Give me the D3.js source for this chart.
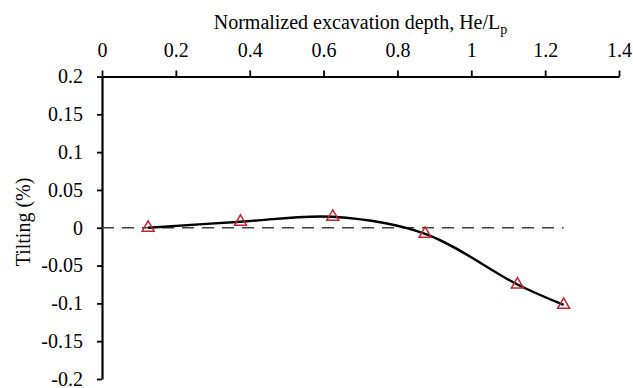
<!DOCTYPE html>
<html>
<head>
<meta charset="utf-8">
<script src="https://d3js.org/d3.v7.min.js"></script>
<style>
  html, body { margin: 0; padding: 0; background: #fff; }
  svg text { font-family: "Liberation Serif", "DejaVu Serif", "Times New Roman", Times, serif !important; }
</style>
</head>
<body>
<div id="chart"></div>
<script>
// Values
const depth = [0.125, 0.375, 0.625, 0.875, 1.125, 1.25];   // He/Lp
const tilting = [0.0, 0.008, 0.0145, -0.008, -0.075, -0.102]; // %
const xTicks = [0, 0.2, 0.4, 0.6, 0.8, 1, 1.2, 1.4];
const yTicks = [0.2, 0.15, 0.1, 0.05, 0, -0.05, -0.1, -0.15, -0.2];
const refLine = [0, 1.25]; // dashed zero line extent

const width = 633, height = 388;
const serif = "Liberation Serif, DejaVu Serif, Times New Roman, serif";

const svg = d3.select("#chart")
  .append("svg")
    .attr("width", width)
    .attr("height", height)
    .attr("font-family", serif);

const x = d3.scaleLinear().domain([0, 1.4]).range([102, 619]);
const y = d3.scaleLinear().domain([-0.2, 0.2]).range([379, 76.5]);

const fmt = d => String(+d.toFixed(2));

// x axis sits on top at y = 0.2
const xAxis = svg.append("g")
    .attr("transform", `translate(0,${y(0.2)})`)
    .call(d3.axisTop(x).tickValues(xTicks).tickFormat(fmt).tickSizeInner(6).tickSizeOuter(0).tickPadding(14));

const yAxis = svg.append("g")
    .attr("transform", `translate(${x(0)},0)`)
    .call(d3.axisLeft(y).tickValues(yTicks).tickFormat(fmt).tickSizeInner(5).tickSizeOuter(0).tickPadding(14));

[xAxis, yAxis].forEach(g => {
  g.attr("font-family", serif).attr("font-size", 20);
  g.select(".domain").attr("stroke", "#000").attr("stroke-width", 2.2);
  g.selectAll(".tick line").attr("stroke", "#000").attr("stroke-width", 1.8);
  g.selectAll(".tick text").attr("fill", "#000");
});

// dashed zero line
svg.append("line")
    .attr("x1", x(refLine[0]))
    .attr("x2", x(refLine[1]))
    .attr("y1", y(0))
    .attr("y2", y(0))
    .attr("stroke", "#404040")
    .attr("stroke-width", 1.6)
    .attr("stroke-dasharray", "12,8");

// smoothed curve
const pts = depth.map((d, i) => [d, tilting[i]]);
const line = d3.line()
    .x(d => x(d[0]))
    .y(d => y(d[1]))
    .curve(d3.curveCatmullRom.alpha(0.5));

svg.append("path")
    .datum(pts)
    .attr("d", line)
    .attr("fill", "none")
    .attr("stroke", "#000")
    .attr("stroke-width", 2.4);

// open triangle markers
svg.selectAll("path.marker")
  .data(pts)
  .enter()
  .append("path")
    .attr("class", "marker")
    .attr("d", d3.symbol().type(d3.symbolTriangle).size(62))
    .attr("transform", d => `translate(${x(d[0])},${y(d[1])})`)
    .attr("fill", "none")
    .attr("stroke", "#C0242A")
    .attr("stroke-width", 1.5);

// axis titles
const title = svg.append("text")
    .attr("x", (x(0) + x(1.4)) / 2)
    .attr("y", 29)
    .attr("text-anchor", "middle")
    .attr("font-size", 20)
    .attr("fill", "#000")
    .text("Normalized excavation depth, He/L");
title.append("tspan")
    .attr("dy", 5)
    .attr("font-size", 14)
    .text("p");

svg.append("text")
    .attr("transform", `translate(30,222) rotate(-90)`)
    .attr("text-anchor", "middle")
    .attr("font-size", 20)
    .attr("fill", "#000")
    .text("Tilting (%)");
</script>
</body>
</html>
